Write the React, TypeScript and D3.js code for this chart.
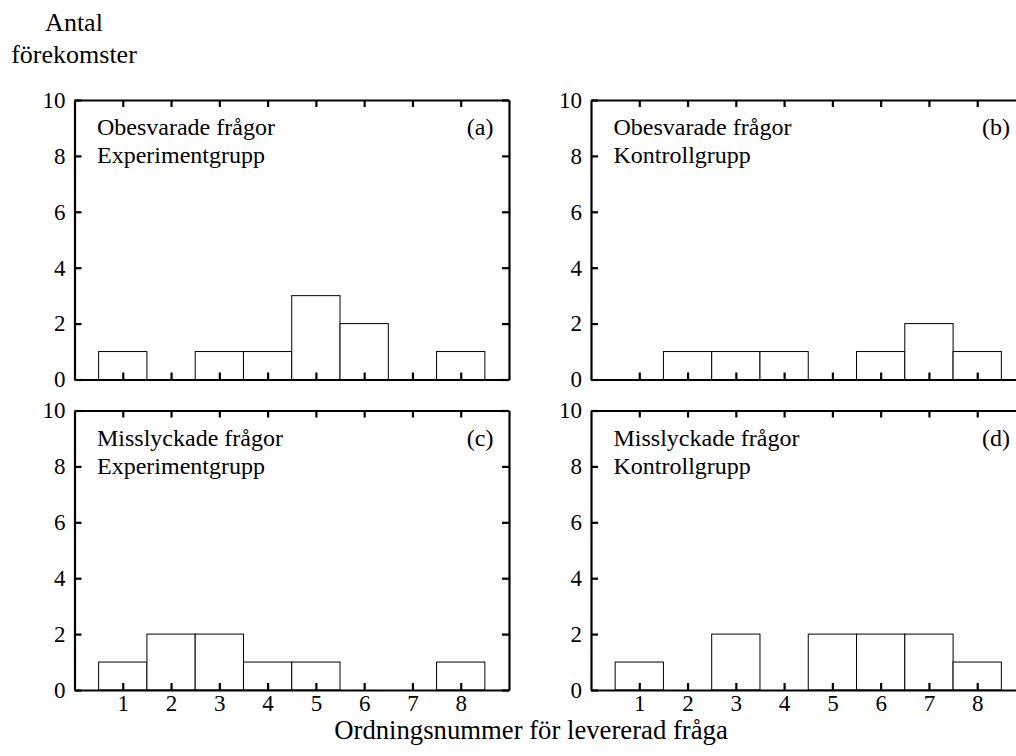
import React, { useEffect, useRef } from "react";
import * as d3 from "d3";

// question order number 1..8
const positions = [1, 2, 3, 4, 5, 6, 7, 8];
const yTickValues = [0, 2, 4, 6, 8, 10];

// counts per position
const unansweredExperiment = [1, 0, 1, 1, 3, 2, 0, 1];
const unansweredControl = [0, 1, 1, 1, 0, 1, 2, 1];
const failedExperiment = [1, 2, 2, 1, 1, 0, 0, 1];
const failedControl = [1, 0, 2, 0, 2, 2, 2, 1];

const panelTitles = [
  ["Obesvarade frågor", "Experimentgrupp", "(a)"],
  ["Obesvarade frågor", "Kontrollgrupp", "(b)"],
  ["Misslyckade frågor", "Experimentgrupp", "(c)"],
  ["Misslyckade frågor", "Kontrollgrupp", "(d)"],
];

const FONT = "Liberation Serif";
const TICK_FS = 23;

const App = () => {
  const ref = useRef<SVGSVGElement>(null);

  useEffect(() => {
    const svg = d3.select(ref.current);
    svg.selectAll("*").remove();

    const panelW = 434.5;
    const panelH = 279.5;
    const lefts = [74.5, 591];
    const tops = [100, 410.5];
    const series = [unansweredExperiment, unansweredControl, failedExperiment, failedControl];

    const label = (sel, x, y, txt, size, anchor = "start") =>
      sel.append("text")
        .attr("x", x)
        .attr("y", y)
        .attr("text-anchor", anchor)
        .attr("font-family", FONT)
        .attr("font-size", size)
        .attr("fill", "black")
        .text(txt);

    series.forEach((values, i) => {
      const col = i % 2;
      const row = Math.floor(i / 2);
      const x0 = lefts[col];
      const y0 = tops[row];

      const x = d3.scaleLinear().domain([0, 9]).range([x0, x0 + panelW]);
      const y = d3.scaleLinear().domain([0, 10]).range([y0 + panelH, y0]);

      const g = svg.append("g");

      // bars (empty positions are not drawn)
      g.selectAll("rect")
        .data(values.map((v, k) => ({ pos: positions[k], v })).filter((d) => d.v > 0))
        .join("rect")
        .attr("x", (d) => x(d.pos - 0.5))
        .attr("width", (d) => x(d.pos + 0.5) - x(d.pos - 0.5))
        .attr("y", (d) => y(d.v))
        .attr("height", (d) => y(0) - y(d.v))
        .attr("fill", "white")
        .attr("stroke", "black")
        .attr("stroke-width", 1);

      const styleAxis = (sel) => {
        sel.attr("font-family", FONT).attr("font-size", TICK_FS);
        sel.select(".domain").attr("stroke-width", 2.2).attr("stroke", "black");
        sel.selectAll(".tick line").attr("stroke-width", 2.2).attr("stroke", "black");
        sel.selectAll("text").attr("fill", "black");
      };

      // bottom axis, labels only on the lower row
      const bottom = g.append("g")
        .attr("transform", `translate(0,${y(0)})`)
        .call(
          d3.axisBottom(x)
            .tickValues(positions)
            .tickSizeInner(-7)
            .tickSizeOuter(0)
            .tickPadding(5)
            .tickFormat((d) => (row === 1 ? String(d) : ""))
        );
      styleAxis(bottom);

      // top axis
      const top = g.append("g")
        .attr("transform", `translate(0,${y(10)})`)
        .call(d3.axisTop(x).tickValues(positions).tickSizeInner(-7).tickSizeOuter(0).tickFormat(() => ""));
      styleAxis(top);

      // left axis
      const left = g.append("g")
        .attr("transform", `translate(${x(0)},0)`)
        .call(d3.axisLeft(y).tickValues(yTickValues).tickSizeInner(-7).tickSizeOuter(0).tickPadding(9));
      styleAxis(left);

      // right axis
      const right = g.append("g")
        .attr("transform", `translate(${x(9)},0)`)
        .call(d3.axisRight(y).tickValues(yTickValues).tickSizeInner(-7).tickSizeOuter(0).tickFormat(() => ""));
      styleAxis(right);

      // panel titles
      const [t1, t2, tag] = panelTitles[i];
      label(g, x0 + 22.5, y0 + 35, t1, 24);
      label(g, x0 + 22.5, y0 + 63, t2, 24);
      label(g, x0 + 419, y0 + 35, tag, 24, "end");
    });

    // y axis label
    label(svg, 74, 31, "Antal", 26, "middle");
    label(svg, 74, 63, "förekomster", 26, "middle");

    // x axis label
    label(svg, 531, 739, "Ordningsnummer för levererad fråga", 26.7, "middle");
  }, []);

  return (
    <svg
      ref={ref}
      width={1016}
      height={756}
      style={{ position: "absolute", left: 0, top: 0, background: "white" }}
    />
  );
};

export default App;
